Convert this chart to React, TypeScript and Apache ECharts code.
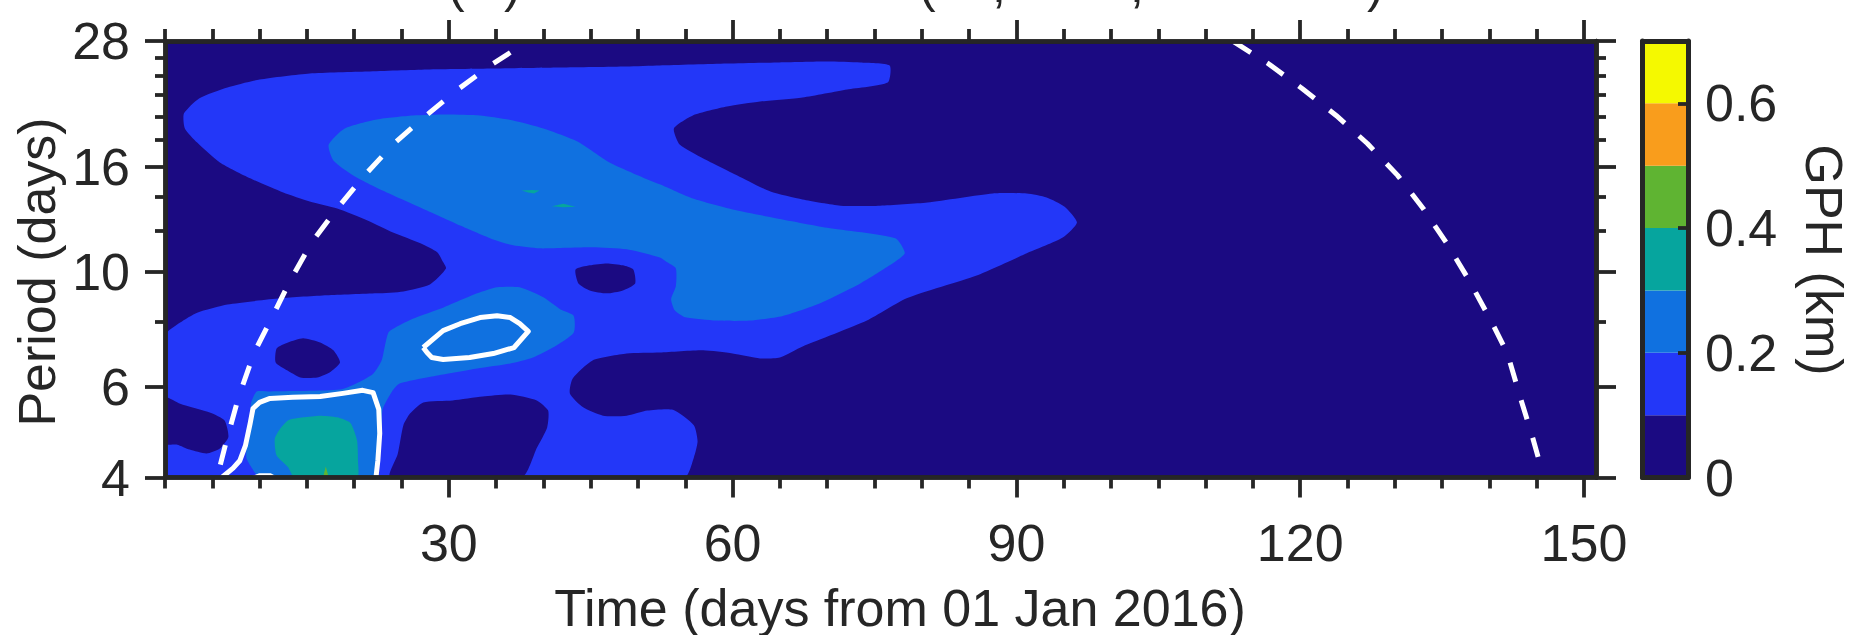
import React, { useEffect, useRef } from "react";
import * as echarts from "echarts";

type Pt = [number, number];

const INK = "#262626";
const FONT = "Liberation Sans";

const dayMin = 0;
const dayMax = 151.27;
const periodMin = 4;
const periodMax = 28;

const dayMajor = [30, 60, 90, 120, 150];
const dayMinor = [0, 5, 10, 15, 20, 25, 35, 40, 45, 50, 55, 65, 70, 75, 80, 85, 95, 100, 105, 110, 115, 125, 130, 135, 140, 145];
const periodMajor = [4, 6, 10, 16, 28];
const periodMinor = [8, 12, 14, 18, 20, 22, 24, 26];

const levelEdges = [0, 0.1, 0.2, 0.3, 0.4, 0.5, 0.6, 0.7];
const levelColors = ["#1B0A82", "#2337F8", "#1071E0", "#06A59E", "#5FB432", "#F99D1C", "#F5F900"];
const cbarTicks = [0.2, 0.4, 0.6];
const cbarLabels = [0, 0.2, 0.4, 0.6];

const domainBox: Pt[] = [[0, 4], [151.27, 4], [151.27, 28], [0, 28]];

const level1Outer: Pt[] = [
  [0, 7.53], [1.6, 7.98], [3.4, 8.34], [6.6, 8.65], [12.2, 8.89], [17.1, 9.01], [22.4, 9.09], [25.2, 9.17], [28, 9.46],
  [29.7, 10.16], [29.3, 10.53], [28.8, 10.91], [27, 11.36], [24.1, 11.92], [21.4, 12.58], [18.2, 13.27], [15.3, 13.69],
  [12.5, 14.25], [9, 15.18], [5.8, 16.29], [3.4, 17.8], [2.1, 18.96], [2, 20.26], [3.6, 21.68], [6.6, 22.76], [10, 23.58],
  [15.3, 24.23], [21.4, 24.45], [27.7, 24.67], [34.7, 24.78], [41.8, 24.89], [48.8, 25], [52.3, 25.11], [59.4, 25.33],
  [64.7, 25.45], [70, 25.56], [73.5, 25.45], [76.6, 25.11], [76.4, 23.27], [72.1, 22.56], [67.4, 21.77], [62.9, 21.38],
  [59.4, 20.9], [55.8, 20.09], [53.8, 18.96], [54.4, 17.65], [56.9, 16.59], [60.5, 15.38], [64, 14.31], [67.4, 13.81],
  [71.4, 13.44], [75.6, 13.44], [80.6, 13.63], [87.5, 14.19], [91.1, 14.19], [93.2, 13.94], [95.1, 13.38], [96.4, 12.47],
  [94.9, 11.66], [91.1, 10.87], [85.8, 9.84], [78.4, 8.89], [74.2, 8.05], [67.4, 7.17], [65, 6.83], [62.9, 6.8], [60, 6.95],
  [56.9, 7.05], [52.3, 6.98], [48.8, 6.95], [45.2, 6.74], [43.1, 6.22], [42.8, 5.82], [44.2, 5.47], [46.3, 5.27], [48.8, 5.27],
  [51, 5.39], [53.7, 5.41], [55.9, 5.05], [56.3, 4.7], [55.9, 4.37], [54.9, 4], [0, 4],
];
const lowBottom: Pt[] = [
  [23.8, 4], [24.6, 4.44], [25.2, 5.05], [25.9, 5.32], [27.3, 5.59], [30.4, 5.64], [33.6, 5.74], [36.5, 5.79], [39.3, 5.64],
  [40.5, 5.39], [40.4, 5], [39.3, 4.56], [37.7, 4],
];
const lowLeft: Pt[] = [
  [0, 5.72], [1.6, 5.56], [4.8, 5.34], [6.3, 5.16], [6.7, 4.79], [5.8, 4.55], [4.4, 4.45], [2.6, 4.53], [1.3, 4.63], [0, 4.65],
];
const lowHoleA: Pt[] = [
  [11.8, 7.11], [13, 7.3], [14.6, 7.44], [16.4, 7.3], [17.8, 7.05], [18.5, 6.68], [17.4, 6.39], [16.1, 6.25], [14.3, 6.25],
  [12.9, 6.45], [11.7, 6.68],
];
const lowHoleB: Pt[] = [
  [43.4, 10.11], [44.9, 10.3], [46.7, 10.39], [48.4, 10.3], [49.5, 10.11], [49.7, 9.5], [48.4, 9.21], [46.7, 9.09], [44.9, 9.21],
  [43.7, 9.5],
];
const level2Main: Pt[] = [
  [17.3, 17.64], [19, 18.96], [22.4, 19.74], [26.2, 20.09], [29.8, 20.18], [33.3, 20.09], [36.8, 19.65], [40, 18.96], [43.6, 17.89],
  [47, 16.29], [50.5, 15.24], [52.3, 14.78], [55.8, 13.87], [60, 13.21], [64.3, 12.74], [70, 12.18], [77.2, 11.62], [78.2, 10.87],
  [76.6, 10.3], [73.5, 9.5], [69.2, 8.69], [65.3, 8.22], [61.8, 8.05], [58.3, 8.05], [55, 8.17], [53.9, 8.42], [53.5, 8.85],
  [54, 9.38], [54, 10.16], [53.1, 10.44], [52.3, 10.67], [48.8, 11.06], [45.2, 11.16], [39.6, 11.11], [36.8, 11.26], [34.7, 11.56],
  [31.2, 12.3], [27.7, 13.15], [23, 14.38], [19.9, 15.38], [17.8, 16.44],
];
const level2Lower: Pt[] = [
  [23.7, 7.67], [26.2, 8.12], [29.4, 8.53], [33, 9.09], [35.1, 9.34], [37.5, 9.34], [40, 8.93], [41.8, 8.46], [43.2, 8.23],
  [43.2, 7.63], [41, 7.14], [38.9, 6.83], [36.5, 6.65], [33, 6.5], [28.8, 6.3], [24.8, 6.08], [24, 5.87], [23, 5.42], [22.9, 4.87],
  [22.5, 4.31], [22.4, 4], [10, 4], [9.2, 4.17], [8.6, 4.37], [8.7, 4.72], [9, 5.16], [9.1, 5.58], [9.7, 5.87], [11.1, 5.87],
  [18.5, 5.92], [20.6, 6.13], [22, 6.35], [22.9, 6.74], [23.3, 7.27],
];
const level3Core: Pt[] = [
  [11.6, 4.75], [12.2, 4.98], [13, 5.16], [14.6, 5.23], [16.4, 5.27], [18.2, 5.23], [19.6, 5.1], [20.3, 4.72], [20.4, 4.31],
  [20.3, 4], [13.7, 4], [13, 4.19], [11.8, 4.41],
];
const level3SpeckA: Pt[] = [[37.7, 14.38], [38.8, 14.41], [39.6, 14.38], [39, 14.19], [38.4, 14.25]];
const level3SpeckB: Pt[] = [[40.9, 13.4], [42.1, 13.56], [43.4, 13.38], [42.1, 13.34]];
const level4Spike: Pt[] = [[16.7, 4], [17, 4.2], [17.3, 4]];

const signifLower: Pt[] = [
  [6, 4], [7.2, 4.17], [7.9, 4.31], [8.5, 4.61], [9, 5.09], [9.3, 5.44], [10, 5.59], [11.1, 5.69], [13.5, 5.72], [16.4, 5.74],
  [18.8, 5.82], [20.9, 5.9], [22, 5.84], [22.6, 5.42], [22.7, 4.87], [22.5, 4.31], [22.3, 4],
];
const signifBlob: Pt[] = [
  [27.3, 7.14], [29.4, 7.7], [31.2, 7.94], [33.3, 8.16], [35.1, 8.23], [36.5, 8.16], [37.5, 7.94], [38.4, 7.67], [36.9, 7.14],
  [34.7, 6.95], [32.2, 6.83], [29.4, 6.77], [28.2, 6.83], [27.7, 6.98], [27.3, 7.14],
];
const signifArc: Pt[] = [[9.2, 4], [10, 4.05], [11.1, 4.05], [11.7, 4]];

const coiLeft: Pt[] = [
  [36.5, 26.6], [34.7, 25.33], [31.1, 22.66], [27.6, 20.09], [24.2, 17.73], [21.1, 15.38], [18.2, 13.27], [15.5, 11.4], [13.3, 9.67],
  [11.3, 8.16], [9.4, 6.96], [7.8, 5.74], [6.6, 4.79], [5.5, 4],
];
const coiRight: Pt[] = [
  [113, 27.9], [116.6, 25.33], [120.2, 22.66], [123.8, 20.09], [127.1, 17.73], [130.3, 15.38], [133, 13.27], [135.5, 11.36],
  [137.8, 9.67], [140.1, 8.09], [141.9, 6.96], [143.3, 5.69], [144.6, 4.76], [145.2, 4.35],
];

const fills: { pts: Pt[]; color: string; round?: number }[] = [
  { pts: domainBox, color: levelColors[0] },
  { pts: level1Outer, color: levelColors[1], round: 0.2 },
  { pts: lowBottom, color: levelColors[0], round: 0.2 },
  { pts: lowLeft, color: levelColors[0], round: 0.2 },
  { pts: lowHoleA, color: levelColors[0], round: 0.2 },
  { pts: lowHoleB, color: levelColors[0], round: 0.2 },
  { pts: level2Main, color: levelColors[2], round: 0.2 },
  { pts: level2Lower, color: levelColors[2], round: 0.2 },
  { pts: level3Core, color: levelColors[3], round: 0.2 },
  { pts: level3SpeckA, color: levelColors[3] },
  { pts: level3SpeckB, color: levelColors[3] },
  { pts: level4Spike, color: levelColors[4] },
];
const lines: { pts: Pt[]; width: number; dash?: number[] }[] = [
  { pts: signifLower, width: 5 },
  { pts: signifBlob, width: 5 },
  { pts: signifArc, width: 3 },
  { pts: coiLeft, width: 5, dash: [20, 21.5] },
  { pts: coiRight, width: 5, dash: [20, 19.2] },
];

const tickAxis = (base: any, values: number[], length: number, extra: any = {}) => ({
  ...base,
  z: 10,
  splitLine: { show: false },
  axisLine: { show: true, onZero: false, lineStyle: { color: INK, width: 4.5 } },
  axisTick: { show: true, length, customValues: values, lineStyle: { color: INK, width: 3.8 } },
  axisLabel: { show: false },
  ...extra,
});

const labelStyle = { color: INK, fontFamily: FONT, fontSize: 52 };
const boxLine = { show: true, onZero: false, lineStyle: { color: INK, width: 5 } };

export default function App() {
  const ref = useRef<HTMLDivElement>(null);
  useEffect(() => {
    if (!ref.current) return;
    const chart = echarts.init(ref.current, undefined, { renderer: "svg" });
    const xBase = { type: "value", gridIndex: 0, min: dayMin, max: dayMax };
    const yBase = { type: "log", gridIndex: 0, min: periodMin, max: periodMax };
    const titleBits: [string, number][] = [["(", 448], [")", 504], ["(", 919], [",", 992], [",", 1130], [")", 1367]];
    chart.setOption({
      animation: false,
      backgroundColor: "#ffffff",
      textStyle: { fontFamily: FONT },
      grid: [
        { left: 165, top: 41, width: 1431, height: 436.5 },
        { left: 1642.5, top: 41, width: 45.5, height: 436.5 },
      ],
      xAxis: [
        tickAxis({ ...xBase, position: "bottom" }, dayMajor, 20, {
          axisLabel: { show: true, ...labelStyle, margin: 39, customValues: dayMajor },
        }),
        tickAxis({ ...xBase, position: "bottom" }, dayMinor, 11),
        tickAxis({ ...xBase, position: "top" }, dayMajor, 21),
        tickAxis({ ...xBase, position: "top" }, dayMinor, 12),
        { type: "value", gridIndex: 1, min: 0, max: 1, position: "bottom", z: 10, splitLine: { show: false }, axisTick: { show: false }, axisLabel: { show: false }, axisLine: boxLine },
        { type: "value", gridIndex: 1, min: 0, max: 1, position: "top", z: 10, splitLine: { show: false }, axisTick: { show: false }, axisLabel: { show: false }, axisLine: boxLine },
      ],
      yAxis: [
        tickAxis({ ...yBase, position: "left" }, periodMajor, 20, {
          axisLabel: { show: true, ...labelStyle, margin: 35, customValues: periodMajor },
        }),
        tickAxis({ ...yBase, position: "left" }, periodMinor, 10),
        tickAxis({ ...yBase, position: "right" }, periodMajor, 20),
        tickAxis({ ...yBase, position: "right" }, periodMinor, 10),
        {
          type: "value", gridIndex: 1, min: 0, max: 0.7, position: "right", z: 10, splitLine: { show: false },
          axisLine: boxLine,
          axisTick: { show: true, inside: true, length: 10, customValues: cbarTicks, lineStyle: { color: INK, width: 3.8 } },
          axisLabel: { show: true, ...labelStyle, margin: 17, customValues: cbarLabels },
        },
        { type: "value", gridIndex: 1, min: 0, max: 0.7, position: "left", z: 10, splitLine: { show: false }, axisTick: { show: false }, axisLabel: { show: false }, axisLine: boxLine },
      ],
      series: [
        {
          type: "custom",
          xAxisIndex: 0,
          yAxisIndex: 0,
          clip: true,
          silent: true,
          z: 2,
          data: fills.map((f, i) => [f.pts[0][0], f.pts[0][1], i]),
          renderItem: (_p: any, api: any) => {
            const f = fills[api.value(2)];
            return {
              type: "polygon",
              shape: { points: f.pts.map((p) => api.coord(p)), smooth: f.round ?? 0 },
              style: { fill: f.color, stroke: null },
            };
          },
        },
        {
          type: "custom",
          xAxisIndex: 0,
          yAxisIndex: 0,
          clip: true,
          silent: true,
          z: 3,
          data: lines.map((l, i) => [l.pts[0][0], l.pts[0][1], i]),
          renderItem: (_p: any, api: any) => {
            const l = lines[api.value(2)];
            return {
              type: "polyline",
              shape: { points: l.pts.map((p) => api.coord(p)) },
              style: { fill: null, stroke: "#ffffff", lineWidth: l.width, lineDash: l.dash ?? null, lineJoin: "round" },
            };
          },
        },
        {
          type: "custom",
          xAxisIndex: 4,
          yAxisIndex: 4,
          silent: true,
          z: 2,
          data: levelColors.map((_, i) => [0, levelEdges[i], i]),
          renderItem: (_p: any, api: any) => {
            const i = api.value(2);
            const pts = [[0, levelEdges[i]], [1, levelEdges[i]], [1, levelEdges[i + 1]], [0, levelEdges[i + 1]]];
            return {
              type: "polygon",
              shape: { points: pts.map((p) => api.coord(p)) },
              style: { fill: levelColors[i], stroke: null },
            };
          },
        },
      ],
      graphic: [
        { type: "text", x: 900, y: 608, style: { text: "Time (days from 01 Jan 2016)", fontFamily: FONT, fontSize: 52, fill: INK, textAlign: "center", textVerticalAlign: "middle" } },
        { type: "text", x: 37, y: 272, rotation: Math.PI / 2, style: { text: "Period (days)", fontFamily: FONT, fontSize: 52, fill: INK, textAlign: "center", textVerticalAlign: "middle" } },
        { type: "text", x: 1824, y: 260, rotation: -Math.PI / 2, style: { text: "GPH (km)", fontFamily: FONT, fontSize: 52, fill: INK, textAlign: "center", textVerticalAlign: "middle" } },
        ...titleBits.map(([text, x]) => ({
          type: "text", x, y: 10, style: { text, fontFamily: FONT, fontSize: 50, fill: INK, textAlign: "left", textVerticalAlign: "bottom" },
        })),
      ],
    });
    return () => chart.dispose();
  }, []);
  return <div ref={ref} style={{ position: "absolute", left: 0, top: 0, width: 1871, height: 635 }} />;
}
